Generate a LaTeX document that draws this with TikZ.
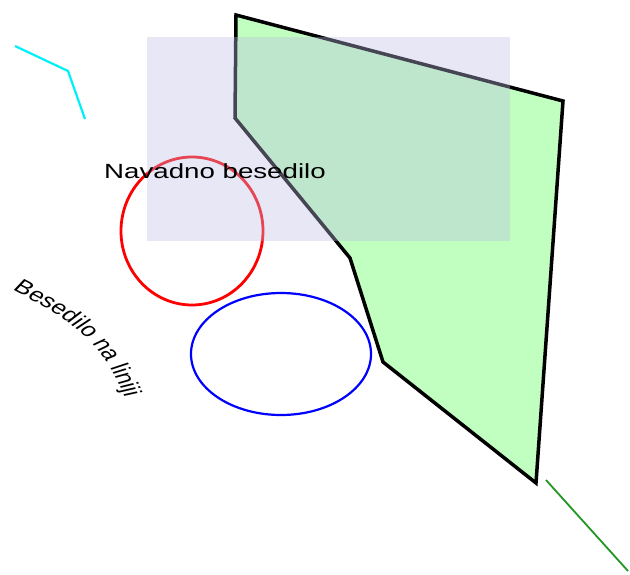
\documentclass[tikz,border=0pt]{standalone}
\usepackage{fontspec}
\setmainfont{Liberation Sans}
\usetikzlibrary{decorations.text}
\definecolor{polyfill}{RGB}{192,255,192}
\definecolor{rectfill}{RGB}{189,189,228}
\definecolor{linegreen}{RGB}{34,150,34}
\definecolor{cyanline}{RGB}{0,240,250}
\tikzset{
  poly/.style={draw=black, line width=3.5pt, fill=polyfill, line join=miter},
  overlay rect/.style={fill=rectfill, fill opacity=0.37, draw=none},
  redring/.style={draw=red, line width=2.8pt},
  bluering/.style={draw=blue, line width=2.2pt},
  plain/.style={font=\fontsize{20.5}{24}\selectfont, inner sep=0pt, anchor=base west}
}
\begin{document}
\begin{tikzpicture}[x=1pt,y=-1pt]
\useasboundingbox (0,0) rectangle (630,574);
% cyan polyline
\coordinate (c1) at (15,46);
\coordinate (c2) at (68,71);
\coordinate (c3) at (85,119);
\draw[cyanline, line width=2.2pt, line join=miter] (c1) -- (c2) -- (c3);
% green polygon
\coordinate (p1) at (236,15);
\coordinate (p2) at (563,101);
\coordinate (p3) at (536,483);
\coordinate (p4) at (383,362);
\coordinate (p5) at (350,258);
\coordinate (p6) at (235,118);
\draw[poly] (p1) -- (p2) -- (p3) -- (p4) -- (p5) -- (p6) -- cycle;
% red ellipse
\draw[redring] (192,231) ellipse [x radius=71, y radius=74];
% blue ellipse
\draw[bluering] (281,354) ellipse [x radius=90, y radius=61];
% semi-transparent rectangle
\path[overlay rect] (147,37) rectangle (510,241);
% green line
\coordinate (g1) at (546,480);
\coordinate (g2) at (628,571);
\draw[linegreen, line width=1.8pt] (g1) -- (g2);
% texts
\node[plain] (t1) at (104,178) {\scalebox{1.35}[1]{Navadno besedilo}};
\begin{scope}[transform canvas={xscale=1.35}]
\path[decorate, decoration={text along path, text align=left,
   text={|\fontsize{19.5}{22}\selectfont|Besedilo na liniji}}]
   (8.9,290) .. controls (48.1,317) and (75.6,340) .. (91.9,396) -- (95,412);
\end{scope}
\end{tikzpicture}
\end{document}
